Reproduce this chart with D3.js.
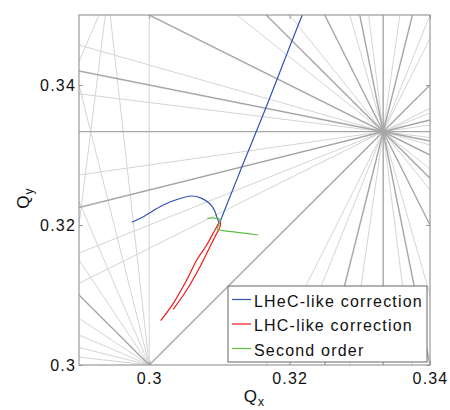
<!DOCTYPE html>
<html>
<head>
<meta charset="utf-8">
<script src="https://cdn.jsdelivr.net/npm/d3@7"></script>
<style>
  body { margin: 0; background: #fff; }
  text { font-family: "Liberation Sans", Arial, sans-serif; letter-spacing: 1.2px; fill: #111; }
</style>
</head>
<body>
<svg id="chart" width="450" height="410"></svg>
<script>
// tick values
const qxTicks = [0.3, 0.32, 0.34];
const qyTicks = [0.3, 0.32, 0.34];

// resonance lines m*Qx + n*Qy = p
const strongLines = [
  [1, -1, 0], [3, 0, 1], [0, 3, 1], [2, 1, 1], [1, 2, 1],
  [4, -1, 1], [1, -4, -1], [5, 1, 2], [1, 5, 2], [3, 3, 2], [5, 5, 3]
];
const weakLines = [
  [5, -2, 1], [2, -5, -1], [7, -1, 2], [1, -7, -2], [8, 1, 3], [1, 8, 3],
  [7, 2, 3], [2, 7, 3], [5, 4, 3], [4, 5, 3], [8, -1, 2], [6, -3, 1],
  [3, -6, -1], [10, 0, 3], [9, 1, 3], [1, 9, 3], [8, 2, 3], [2, 8, 3],
  [7, 3, 3], [3, 7, 3], [6, 4, 3], [4, 6, 3], [7, -3, 1]
];

// tune footprints
const lhecQx = [0.29751, 0.29916, 0.30154, 0.30343, 0.30605, 0.30748, 0.30856, 0.30927, 0.30970, 0.31001, 0.3103, 0.31341, 0.31650, 0.32187, 0.3225];
const lhecQy = [0.32039, 0.32119, 0.32261, 0.32347, 0.32414, 0.32381, 0.32310, 0.32214, 0.32096, 0.32029, 0.3210, 0.32881, 0.33643, 0.35014, 0.3515];

const lhcQx = [0.30164, 0.30343, 0.30534, 0.30677, 0.30819, 0.30937, 0.31009, 0.31009, 0.30962, 0.30866, 0.30724, 0.30534, 0.30343];
const lhcQy = [0.30633, 0.30881, 0.31214, 0.31500, 0.31714, 0.31929, 0.32047, 0.31976, 0.31881, 0.31690, 0.31404, 0.31071, 0.30796];

const secondQx = [0.30828, 0.30909, 0.31009, 0.30990, 0.30970, 0.31056, 0.31246, 0.31554];
const secondQy = [0.32096, 0.32100, 0.32081, 0.32000, 0.31939, 0.31919, 0.31896, 0.31857];

const legendNames = ["LHeC-like correction", "LHC-like correction", "Second order"];
const legendColors = ["#2f52b4", "#f01818", "#5cc040"];

const svg = d3.select('#chart');
const margin = {left: 79, top: 15, right: 20, bottom: 45};
const width = 450 - margin.left - margin.right;
const height = 410 - margin.top - margin.bottom;

const x = d3.scaleLinear().domain([0.29, 0.34]).range([0, width]);
const y = d3.scaleLinear().domain([0.3, 0.35]).range([height, 0]);

const g = svg.append('g').attr('transform', `translate(${margin.left},${margin.top})`);

svg.append('defs').append('clipPath').attr('id', 'plotclip')
  .append('rect').attr('width', width).attr('height', height);

const plot = g.append('g').attr('clip-path', 'url(#plotclip)');

function resonanceEnds(r) {
  const [m, n, p] = r;
  if (Math.abs(m) > Math.abs(n)) {
    return [0.3, 0.35].map(qy => [(p - n * qy) / m, qy]);
  }
  return [0.29, 0.34].map(qx => [qx, (p - m * qx) / n]);
}

function drawLines(list, color, w) {
  plot.selectAll(null).data(list).enter().append('line')
    .attr('x1', d => x(resonanceEnds(d)[0][0]))
    .attr('y1', d => y(resonanceEnds(d)[0][1]))
    .attr('x2', d => x(resonanceEnds(d)[1][0]))
    .attr('y2', d => y(resonanceEnds(d)[1][1]))
    .attr('stroke', color)
    .attr('stroke-width', w);
}
drawLines(weakLines, '#d4d4d4', 1);
drawLines(strongLines, '#a6a6a6', 1.4);

const line = d3.line().x(d => x(d[0])).y(d => y(d[1])).curve(d3.curveCatmullRom);
const series = [
  d3.zip(lhecQx, lhecQy),
  d3.zip(lhcQx, lhcQy),
  d3.zip(secondQx, secondQy)
];
series.forEach((s, i) => {
  plot.append('path').datum(s)
    .attr('d', line)
    .attr('fill', 'none')
    .attr('stroke', legendColors[i])
    .attr('stroke-width', 1.2);
});

// axes
const axisColor = '#9a9a9a';
const xAxis = g.append('g').attr('transform', `translate(0,${height})`)
  .call(d3.axisBottom(x).tickValues(qxTicks).tickFormat(d3.format('')).tickSizeInner(-4).tickSizeOuter(0).tickPadding(8));
const yAxis = g.append('g')
  .call(d3.axisLeft(y).tickValues(qyTicks).tickFormat(d3.format('')).tickSizeInner(-4).tickSizeOuter(0).tickPadding(3));
const xTop = g.append('g')
  .call(d3.axisTop(x).tickValues(qxTicks).tickFormat('').tickSizeInner(-4).tickSizeOuter(0));
const yRight = g.append('g').attr('transform', `translate(${width},0)`)
  .call(d3.axisRight(y).tickValues(qyTicks).tickFormat('').tickSizeInner(-4).tickSizeOuter(0));

[xAxis, yAxis, xTop, yRight].forEach(a => {
  a.select('.domain').remove();
  a.selectAll('line').attr('stroke', axisColor);
  a.selectAll('text').attr('font-size', 16).attr('fill', '#111')
    .attr('font-family', '"Liberation Sans", Arial, sans-serif');
});

g.append('rect').attr('width', width).attr('height', height)
  .attr('fill', 'none').attr('stroke', axisColor).attr('stroke-width', 1.2);

// axis labels
const xl = svg.append('text').attr('x', margin.left + width / 2).attr('y', 402)
  .attr('text-anchor', 'middle').attr('font-size', 17);
xl.append('tspan').text('Q');
xl.append('tspan').attr('font-size', 12).attr('dy', 4).text('x');

const yl = svg.append('text').attr('transform', `translate(29,${margin.top + height / 2 + 8}) rotate(-90)`)
  .attr('text-anchor', 'middle').attr('font-size', 17);
yl.append('tspan').text('Q');
yl.append('tspan').attr('font-size', 12).attr('dy', 4).text('y');

// legend
const legend = svg.append('g').attr('transform', 'translate(228,286)');
legend.append('rect').attr('width', 199).attr('height', 76)
  .attr('fill', '#fff').attr('stroke', '#666').attr('stroke-width', 1);
legendNames.forEach((name, i) => {
  const ly = 13.5 + i * 24.5;
  legend.append('line').attr('x1', 4).attr('x2', 23).attr('y1', ly).attr('y2', ly)
    .attr('stroke', legendColors[i]).attr('stroke-width', 1.2);
  legend.append('text').attr('x', 26).attr('y', ly + 7).attr('font-size', 16).text(name);
});
</script>
</body>
</html>
